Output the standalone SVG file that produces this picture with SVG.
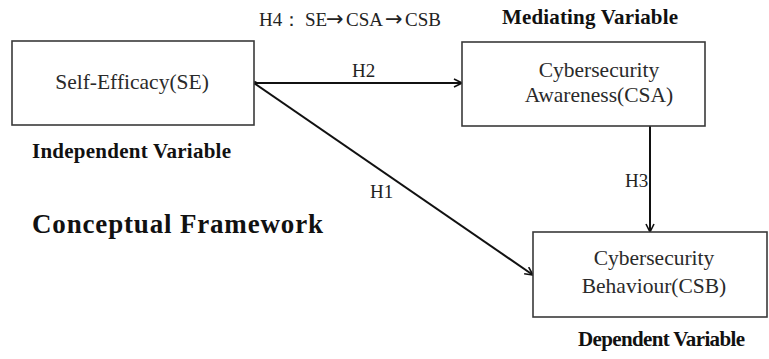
<svg xmlns="http://www.w3.org/2000/svg" width="769" height="359" viewBox="0 0 769 359">
  <style>
    .box { fill: #ffffff; stroke: #3a3a3a; stroke-width: 1.6; }
    .lbl { font-family: "Liberation Serif", "Times New Roman", serif; font-size: 21.5px; fill: #2a2a2a; text-anchor: middle; }
    .hyp { font-family: "Liberation Serif", "Times New Roman", serif; font-size: 19px; fill: #222222; }
    .arr { font-family: "DejaVu Sans", sans-serif; font-size: 21px; }
    .cap { font-family: "Liberation Serif", "Times New Roman", serif; font-size: 21px; font-weight: bold; fill: #111111; }
    .edge { stroke: #111111; stroke-width: 2; fill: none; }
  </style>
  <defs>
    <marker id="arrow" viewBox="0 0 10 10" refX="9" refY="5" markerWidth="5" markerHeight="5" markerUnits="strokeWidth" orient="auto">
      <path d="M1,1 L9,5 L1,9" fill="none" stroke="#111111" stroke-width="1.6"/>
    </marker>
  </defs>
  <rect width="769" height="359" fill="#ffffff"/>

  <g id="connectors">
    <line class="edge" x1="254" y1="83" x2="462" y2="83" marker-end="url(#arrow)"/>
    <line class="edge" x1="254" y1="83" x2="533" y2="275" marker-end="url(#arrow)"/>
    <line class="edge" x1="650" y1="126" x2="650" y2="232" marker-end="url(#arrow)"/>
    <circle cx="255" cy="83" r="2" fill="#111111"/>
    <text class="hyp" x="352" y="77">H2</text>
    <text class="hyp" x="370" y="198">H1</text>
    <text class="hyp" x="625" y="187">H3</text>
  </g>

  <g id="node-se">
    <rect class="box" x="12" y="41" width="242" height="84"/>
    <text class="lbl" x="132" y="89">Self-Efficacy(SE)</text>
    <text class="cap" x="32" y="158" textLength="199">Independent Variable</text>
  </g>

  <g id="node-csa">
    <rect class="box" x="462" y="42" width="243" height="84"/>
    <text class="lbl" x="599" y="77">Cybersecurity</text>
    <text class="lbl" x="599" y="102">Awareness(CSA)</text>
    <text class="cap" x="502" y="24" textLength="176">Mediating Variable</text>
  </g>

  <g id="node-csb">
    <rect class="box" x="533" y="232" width="234" height="85"/>
    <text class="lbl" x="654" y="265">Cybersecurity</text>
    <text class="lbl" x="654" y="293">Behaviour(CSB)</text>
    <text class="cap" x="578" y="346" textLength="167">Dependent Variable</text>
  </g>

  <!-- mediation path caption -->
  <text class="hyp" x="259" y="26">H4：<tspan x="305">SE</tspan><tspan class="arr" x="326">→</tspan><tspan x="346">CSA</tspan><tspan class="arr" x="385">→</tspan><tspan x="405">CSB</tspan></text>
  <text x="32" y="233" font-family="'Liberation Serif', 'Times New Roman', serif" font-size="27" font-weight="bold" fill="#111111" textLength="291">Conceptual Framework</text>
</svg>
